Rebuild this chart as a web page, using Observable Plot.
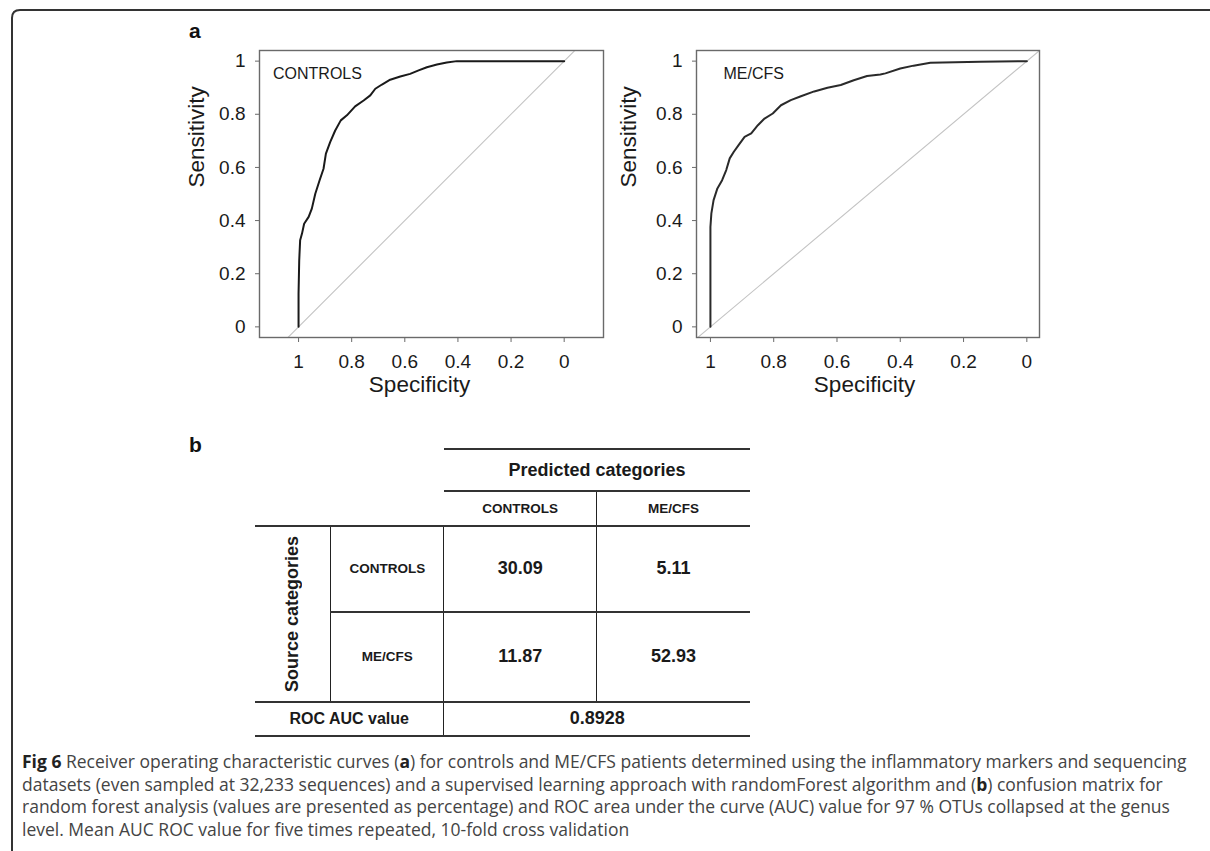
<!DOCTYPE html>
<html><head><meta charset="utf-8">
<script src="https://cdn.jsdelivr.net/npm/d3@7"></script>
<script src="https://cdn.jsdelivr.net/npm/@observablehq/plot@0.6"></script>
<style>
body{margin:0;background:#fff;}
#fig{position:relative;width:1210px;height:851px;overflow:hidden;font-family:"Liberation Sans",Arial,sans-serif;}
#deco{position:absolute;left:0;top:0;}
.panel{position:absolute;top:0;}
#cm{position:absolute;left:255px;top:448px;border-collapse:collapse;table-layout:fixed;font-family:"Liberation Sans",Arial,sans-serif;font-weight:bold;color:#1a1a1a;}
#cm td{padding:0;text-align:center;vertical-align:middle;white-space:nowrap;}
#cm .ht{border-top:2px solid #333;}
#cm .hb{border-bottom:2px solid #333;}
#cm .vr{border-right:1.5px solid #222;}
#cm .rot{writing-mode:vertical-rl;transform:rotate(180deg);margin:0 auto;font-size:18px;}
#caption{position:absolute;left:22px;top:750px;font-family:"Open Sans",sans-serif;font-size:17.5px;line-height:22.5px;color:#444;white-space:nowrap;}
#caption b{color:#222;}
</style></head>
<body><div id="fig">
<svg id="deco" width="1210" height="851">
  <path d="M12,851 V18 Q12,10 20,10 H1210" fill="none" stroke="#333" stroke-width="2"/>
  <text x="189" y="38" font-family="Liberation Sans, Arial, sans-serif" font-weight="bold" font-size="21" fill="#111">a</text>
  <text x="189" y="452" font-family="Liberation Sans, Arial, sans-serif" font-weight="bold" font-size="21" fill="#111">b</text>
</svg>
<div id="left" class="panel" style="left:0"></div>
<div id="right" class="panel" style="left:610px"></div>
<table id="cm"></table>
<div id="caption"></div>
</div>
<script>
// ---- data ----
const specTicks = [1, 0.8, 0.6, 0.4, 0.2, 0];
const sensTicks = [0, 0.2, 0.4, 0.6, 0.8, 1];
const diagonalSpec = [1.3, -0.3];
const diagonalSens = [-0.3, 1.3];

const controlsSpec = [1, 1, 0.9975, 0.994, 0.987, 0.979, 0.962, 0.95, 0.937, 0.921, 0.906, 0.897, 0.881, 0.862, 0.841, 0.818, 0.787, 0.755, 0.73, 0.711, 0.686, 0.655, 0.617, 0.58, 0.548, 0.517, 0.479, 0.442, 0.404, 0];
const controlsSens = [0, 0.125, 0.25, 0.326, 0.351, 0.388, 0.414, 0.445, 0.501, 0.551, 0.595, 0.652, 0.695, 0.739, 0.777, 0.796, 0.83, 0.852, 0.871, 0.896, 0.912, 0.93, 0.942, 0.952, 0.965, 0.977, 0.987, 0.995, 1, 1];

const mecfsSpec = [1, 1, 0.997, 0.99, 0.978, 0.963, 0.95, 0.939, 0.926, 0.911, 0.892, 0.871, 0.85, 0.829, 0.803, 0.777, 0.746, 0.714, 0.672, 0.63, 0.588, 0.547, 0.505, 0.463, 0.447, 0.4, 0.358, 0.305, 0.147, 0];
const mecfsSens = [0, 0.376, 0.427, 0.477, 0.521, 0.552, 0.59, 0.634, 0.659, 0.684, 0.715, 0.728, 0.759, 0.784, 0.803, 0.834, 0.853, 0.868, 0.886, 0.9, 0.91, 0.928, 0.944, 0.95, 0.954, 0.972, 0.983, 0.994, 0.998, 1];

const predictedCategories = ["CONTROLS", "ME/CFS"];
const sourceCategories = ["CONTROLS", "ME/CFS"];
const controlsRow = ["30.09", "5.11"];
const mecfsRow = ["11.87", "52.93"];
const rocAucValue = "0.8928";

const captionLines = [
  "<b>Fig 6</b> Receiver operating characteristic curves (<b>a</b>) for controls and ME/CFS patients determined using the inflammatory markers and sequencing",
  "datasets (even sampled at 32,233 sequences) and a supervised learning approach with randomForest algorithm and (<b>b</b>) confusion matrix for",
  "random forest analysis (values are presented as percentage) and ROC area under the curve (AUC) value for 97 % OTUs collapsed at the genus",
  "level. Mean AUC ROC value for five times repeated, 10-fold cross validation"
];

// ---- ROC panels ----
function rocPlot(o) {
  const pts = o.spec.map((s, i) => ({spec: s, sens: o.sens[i]}));
  const diag = diagonalSpec.map((s, i) => ({spec: s, sens: diagonalSens[i]}));
  const fmt = d => `${d}`;
  return Plot.plot({
    width: o.width, height: 410,
    marginLeft: o.marginLeft, marginRight: o.marginRight, marginTop: 50, marginBottom: 73,
    x: {domain: o.xDomain},
    y: {domain: [-0.04, 1.04]},
    style: {fontFamily: "Liberation Sans, Arial, sans-serif", color: "#1a1a1a", background: "transparent", overflow: "visible"},
    marks: [
      Plot.line(diag, {x: "spec", y: "sens", stroke: "#c4c4c4", strokeWidth: 1.1, clip: true}),
      Plot.line(pts, {x: "spec", y: "sens", stroke: o.curveColor, strokeWidth: 2, strokeLinejoin: "round"}),
      Plot.frame({stroke: "#6a6a6a", strokeWidth: 1.4}),
      Plot.axisX({ticks: specTicks, tickFormat: fmt, tickSize: 5, tickPadding: 12, fontSize: 19, label: null, stroke: "#6a6a6a"}),
      Plot.axisY({ticks: sensTicks, tickFormat: fmt, tickSize: 4, tickPadding: 10, fontSize: 19, label: null, stroke: "#6a6a6a"}),
      Plot.text([o.name], {frameAnchor: "top-left", textAnchor: "start", dx: o.nameDx, dy: 17, fontSize: 16}),
      Plot.text(["Sensitivity"], {frameAnchor: "left", rotate: -90, dx: o.ylabDx, dy: -6.5, fontSize: 22.5}),
      Plot.text(["Specificity"], {frameAnchor: "bottom", dx: o.xlabDx, dy: 54, fontSize: 22.5})
    ]
  });
}

document.getElementById("left").append(rocPlot({
  spec: controlsSpec, sens: controlsSens, name: "CONTROLS",
  width: 620, marginLeft: 259, marginRight: 17, xDomain: [1.147, -0.148],
  nameDx: 13.5, ylabDx: -62.5, xlabDx: -12, curveColor: "#1a1a1a"
}));
document.getElementById("right").append(rocPlot({
  spec: mecfsSpec, sens: mecfsSens, name: "ME/CFS",
  width: 600, marginLeft: 86, marginRight: 171, xDomain: [1.044, -0.04],
  nameDx: 27, ylabDx: -67.7, xlabDx: -3.5, curveColor: "#2a2a2a"
}));

// ---- confusion matrix table ----
const colW = [75.7, 113.3, 152.7, 153.3];
const rowH = [42, 34.7, 86, 90, 34.3];
const t = d3.select("#cm");
const cg = t.append("colgroup");
colW.forEach(w => cg.append("col").style("width", w + "px"));
let r = t.append("tr").style("height", rowH[0] + "px");
r.append("td").attr("colspan", 2);
r.append("td").attr("colspan", 2).attr("class", "ht hb").style("font-size", "18px").text("Predicted categories");
r = t.append("tr").style("height", rowH[1] + "px");
r.append("td").attr("colspan", 2);
predictedCategories.forEach((c, i) => r.append("td").attr("class", i === 0 ? "vr" : "").style("font-size", "13.5px").text(c));
[controlsRow, mecfsRow].forEach((vals, k) => {
  const row = t.append("tr").style("height", rowH[2 + k] + "px");
  if (k === 0) row.append("td").attr("rowspan", 2).attr("class", "ht vr hb").append("div").attr("class", "rot").text("Source categories");
  row.append("td").attr("class", "ht vr").style("font-size", "13.5px").text(sourceCategories[k]);
  vals.forEach((v, i) => row.append("td").attr("class", "ht" + (i === 0 ? " vr" : "")).style("font-size", "18px").text(v));
});
r = t.append("tr").style("height", rowH[4] + "px");
r.append("td").attr("colspan", 2).attr("class", "ht hb vr").style("font-size", "16px").text("ROC AUC value");
r.append("td").attr("colspan", 2).attr("class", "ht hb").style("font-size", "18px").text(rocAucValue);

// ---- caption ----
document.getElementById("caption").innerHTML = captionLines.join("<br>");
</script>
</body></html>
